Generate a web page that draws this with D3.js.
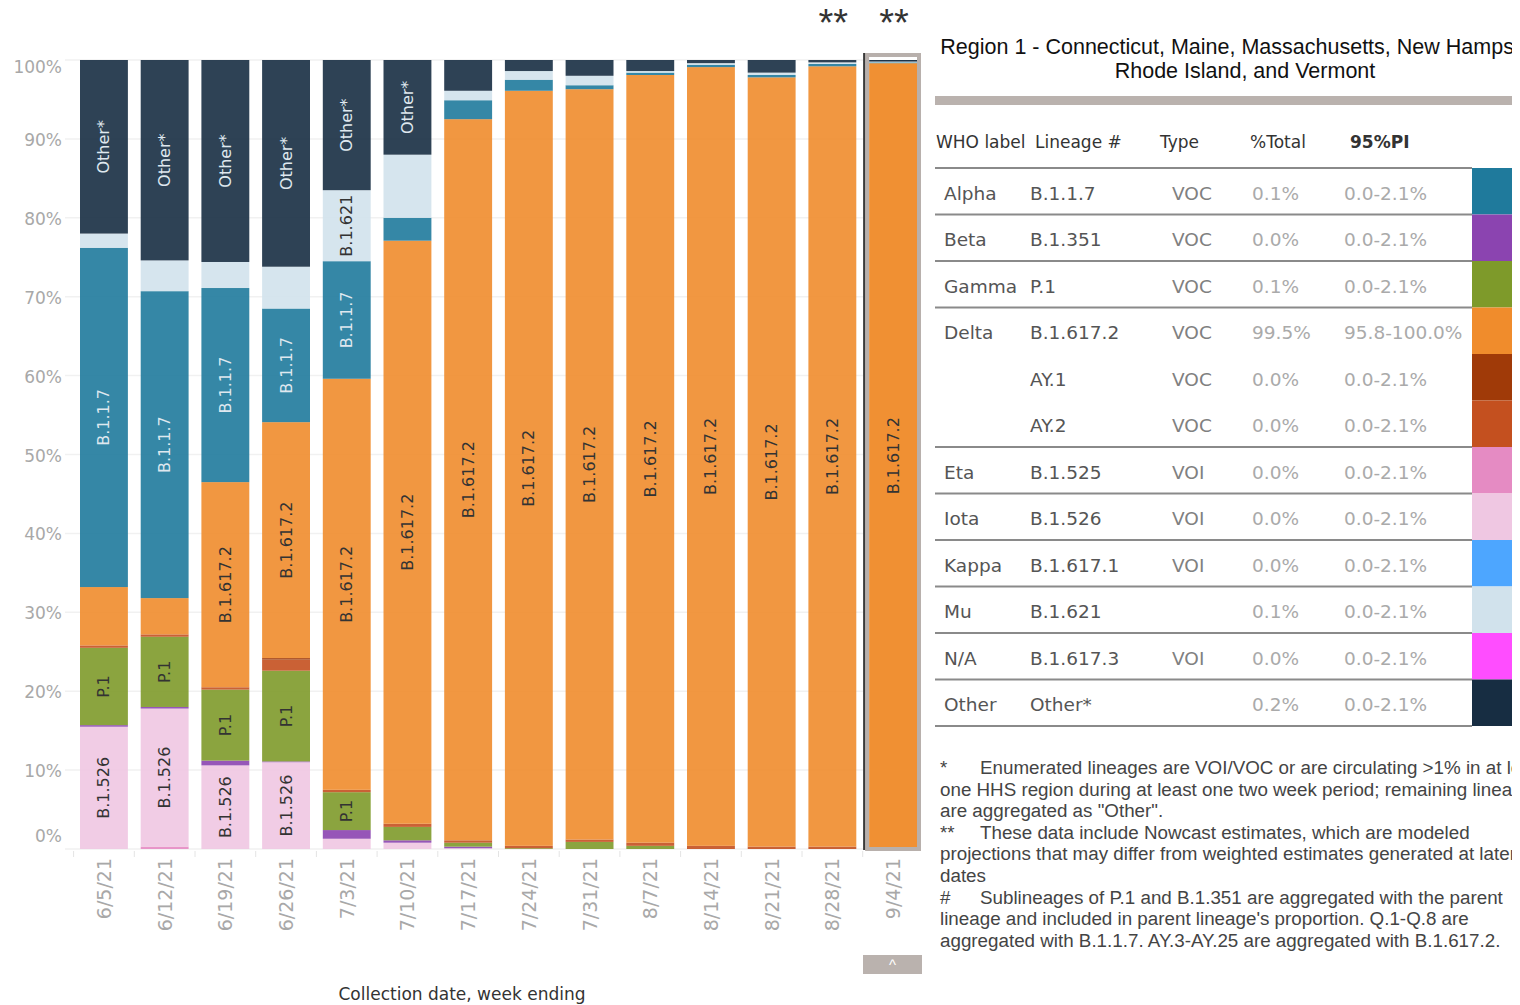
<!DOCTYPE html>
<html>
<head>
<meta charset="utf-8">
<script src="https://cdn.jsdelivr.net/npm/d3@7"></script>
<style>
  body { margin: 0; background: #fff; }
  svg { display: block; }
</style>
</head>
<body>
<div class="container"></div>
<script>
"use strict";

var width = 1520;
var height = 1005;

// weeks (collection date, week ending)
var dates = ["6/5/21", "6/12/21", "6/19/21", "6/26/21", "7/3/21", "7/10/21", "7/17/21",
    "7/24/21", "7/31/21", "8/7/21", "8/14/21", "8/21/21", "8/28/21", "9/4/21"];

// proportions in %, stacked bottom -> top in this order
var eta    = [0, 0.3, 0, 0, 0, 0, 0, 0, 0, 0, 0, 0, 0, 0];
var iota   = [15.5, 17.5, 10.6, 11.0, 1.3, 0.8, 0.1, 0, 0, 0, 0, 0, 0, 0];
var beta   = [0.2, 0.2, 0.6, 0.1, 1.1, 0.3, 0.2, 0, 0, 0, 0, 0, 0, 0];
var gamma  = [9.8, 8.9, 9.0, 11.5, 4.8, 1.7, 0.5, 0.1, 0.9, 0.4, 0, 0, 0, 0.1];
var ay2    = [0.3, 0.3, 0.3, 1.4, 0.3, 0.4, 0.3, 0.3, 0.3, 0.4, 0.4, 0.3, 0.3, 0];
var ay1    = [0, 0, 0, 0.2, 0, 0, 0, 0, 0, 0, 0, 0, 0, 0];
var delta  = [7.4, 4.6, 26.0, 29.9, 52.1, 73.9, 91.4, 95.7, 95.1, 97.3, 98.7, 97.5, 98.9, 99.5];
var alpha  = [43.0, 38.9, 24.6, 14.4, 14.9, 2.9, 2.4, 1.4, 0.5, 0.3, 0.3, 0.3, 0.3, 0.1];
var mu     = [1.8, 3.9, 3.3, 5.3, 9.0, 8.0, 1.2, 1.1, 1.2, 0.2, 0.2, 0.3, 0.2, 0.1];
var other  = [22.0, 25.4, 25.6, 26.2, 16.5, 12.0, 3.9, 1.4, 2.0, 1.4, 0.4, 1.6, 0.3, 0.2];

var stackKeys   = ["B.1.525", "B.1.526", "B.1.351", "P.1", "AY.2", "AY.1", "B.1.617.2", "B.1.1.7", "B.1.621", "Other*"];
var stackSeries = [eta, iota, beta, gamma, ay2, ay1, delta, alpha, mu, other];

// legend table
var whoLabels = ["Alpha", "Beta", "Gamma", "Delta", "", "", "Eta", "Iota", "Kappa", "Mu", "N/A", "Other"];
var lineages  = ["B.1.1.7", "B.1.351", "P.1", "B.1.617.2", "AY.1", "AY.2", "B.1.525", "B.1.526", "B.1.617.1", "B.1.621", "B.1.617.3", "Other*"];
var types     = ["VOC", "VOC", "VOC", "VOC", "VOC", "VOC", "VOI", "VOI", "VOI", "", "VOI", ""];
var pctTotal  = ["0.1%", "0.0%", "0.1%", "99.5%", "0.0%", "0.0%", "0.0%", "0.0%", "0.0%", "0.1%", "0.0%", "0.2%"];
var piRange   = ["0.0-2.1%", "0.0-2.1%", "0.0-2.1%", "95.8-100.0%", "0.0-2.1%", "0.0-2.1%", "0.0-2.1%",
    "0.0-2.1%", "0.0-2.1%", "0.0-2.1%", "0.0-2.1%", "0.0-2.1%"];
var swatches  = ["#1f7a9c", "#8b44b0", "#7e9a2a", "#f08c2c", "#a03a08", "#c4501f", "#e58bc3",
    "#efc7e2", "#4da6ff", "#d1e2ec", "#ff4dff", "#172d42"];

var yTicks = [0, 10, 20, 30, 40, 50, 60, 70, 80, 90, 100];

var footnotes = [
    ["*", "Enumerated lineages are VOI/VOC or are circulating >1% in at least"],
    ["", "one HHS region during at least one two week period; remaining lineages"],
    ["", "are aggregated as \"Other\"."],
    ["**", "These data include Nowcast estimates, which are modeled"],
    ["", "projections that may differ from weighted estimates generated at later"],
    ["", "dates"],
    ["#", "Sublineages of P.1 and B.1.351 are aggregated with the parent"],
    ["", "lineage and included in parent lineage's proportion. Q.1-Q.8 are"],
    ["", "aggregated with B.1.1.7. AY.3-AY.25 are aggregated with B.1.617.2."]
];

var colorOf = {};
lineages.forEach(function(l, i) { colorOf[l] = swatches[i]; });

var rows = dates.map(function(d, i) {
    var r = {date: d};
    stackKeys.forEach(function(k, j) { r[k] = stackSeries[j][i]; });
    return r;
});

var series = d3.stack().keys(stackKeys)(rows);

var svg = d3.select(".container").append("svg")
    .attr("width", width)
    .attr("height", height);

var chartFont = "'DejaVu Sans', sans-serif";
var arial = "'Liberation Sans', Arial, sans-serif";

// the dashboard cuts the right panel off at its edge
svg.append("defs").append("clipPath")
    .attr("id", "panel-clip")
    .append("rect")
    .attr("x", 925).attr("y", 0)
    .attr("width", 587).attr("height", height);

var x = d3.scaleBand()
    .domain(dates)
    .range([73.6, 923.4])
    .paddingInner(0.211)
    .paddingOuter(0.1055);

var y = d3.scaleLinear().domain([0, 100]).range([849, 60]);

// gridlines
svg.append("g").selectAll("line")
    .data(yTicks)
    .enter().append("line")
    .attr("x1", 65).attr("x2", 863)
    .attr("y1", function(d) { return y(d); })
    .attr("y2", function(d) { return y(d); })
    .attr("stroke", "#f1f1f1")
    .attr("stroke-width", 1.5);

// y labels (Tableau nudges the end labels inward)
svg.append("g").selectAll("text")
    .data(yTicks)
    .enter().append("text")
    .attr("x", 62)
    .attr("y", function(d) { return y(d) + (d === 100 ? 7 : d === 0 ? -13 : 1); })
    .attr("text-anchor", "end")
    .attr("dominant-baseline", "central")
    .style("font-family", chartFont)
    .style("font-size", "17px")
    .style("fill", "#a8a8a8")
    .text(function(d) { return d + "%"; });

// small dividers between columns at the bottom
var bounds = dates.map(function(d) { return x(d) - x.step() * x.paddingInner() / 2; });
svg.append("g").selectAll("line")
    .data(bounds)
    .enter().append("line")
    .attr("x1", function(d) { return d; }).attr("x2", function(d) { return d; })
    .attr("y1", 851).attr("y2", 857)
    .attr("stroke", "#e4e4e4");

var last = dates[dates.length - 1];

// bars
var layers = svg.append("g").selectAll("g")
    .data(series)
    .enter().append("g")
    .attr("fill", function(d) { return colorOf[d.key]; });

layers.selectAll("rect")
    .data(function(d) { return d; })
    .enter().append("rect")
    .attr("x", function(d) { return x(d.data.date); })
    .attr("y", function(d) { return y(d[1]); })
    .attr("width", x.bandwidth())
    .attr("height", function(d) { return y(d[0]) - y(d[1]); })
    .attr("fill-opacity", function(d) { return d.data.date === last ? 0.97 : 0.9; });

// labels inside the bars, only where they fit
var labels = svg.append("g");
series.forEach(function(s) {
    var light = s.key === "Other*" || s.key === "B.1.1.7";
    s.forEach(function(d) {
        var h = y(d[0]) - y(d[1]);
        if (h < 20) return;
        var cx = x(d.data.date) + x.bandwidth() / 2;
        var cy = (y(d[0]) + y(d[1])) / 2;
        var t = labels.append("text")
            .attr("transform", "translate(" + cx + "," + cy + ") rotate(-90)")
            .attr("text-anchor", "middle")
            .attr("dominant-baseline", "central")
            .style("font-family", chartFont)
            .style("font-size", "16px")
            .style("fill", light ? "#dfe8ef" : "#333")
            .text(s.key);
        if (t.node().getComputedTextLength() + 8 > h) t.remove();
    });
});

// highlight frame on the last week
var lx = x(last);
svg.append("rect")
    .attr("x", lx - 2).attr("y", 55)
    .attr("width", x.bandwidth() + 4).attr("height", 794)
    .attr("fill", "none")
    .attr("stroke", "#b8b0ac")
    .attr("stroke-width", 4);
svg.append("line")
    .attr("x1", lx - 5).attr("x2", lx - 5)
    .attr("y1", 53).attr("y2", 850)
    .attr("stroke", "#3a3a3a")
    .attr("stroke-width", 2);

// nowcast markers
svg.append("g").selectAll("text")
    .data(dates.slice(-2))
    .enter().append("text")
    .attr("x", function(d) { return x(d) + x.bandwidth() / 2 + 1; })
    .attr("y", 36)
    .attr("text-anchor", "middle")
    .style("font-family", arial)
    .style("font-size", "38px")
    .style("fill", "#333")
    .text("**");

// x labels
svg.append("g").selectAll("text")
    .data(dates)
    .enter().append("text")
    .attr("transform", function(d) {
        return "translate(" + (x(d) + x.bandwidth() / 2) + ",858) rotate(-90)";
    })
    .attr("text-anchor", "end")
    .attr("dominant-baseline", "central")
    .style("font-family", chartFont)
    .style("font-size", "19px")
    .style("fill", "#a8a8a8")
    .text(function(d) { return d; });

svg.append("text")
    .attr("x", 462).attr("y", 1000)
    .attr("text-anchor", "middle")
    .style("font-family", chartFont)
    .style("font-size", "17px")
    .style("fill", "#333")
    .text("Collection date, week ending");

// scroll button
svg.append("rect")
    .attr("x", 863).attr("y", 955)
    .attr("width", 59).attr("height", 19)
    .attr("fill", "#bab2ae");
svg.append("text")
    .attr("x", 892.5).attr("y", 970)
    .attr("text-anchor", "middle")
    .style("font-family", arial)
    .style("font-size", "15px")
    .style("fill", "#fff")
    .text("^");

// ---- right panel ----
var panel = svg.append("g").attr("clip-path", "url(#panel-clip)");

panel.append("text")
    .attr("x", 1248).attr("y", 54)
    .attr("text-anchor", "middle")
    .style("font-family", arial)
    .style("font-size", "21.5px")
    .style("fill", "#111")
    .text("Region 1 - Connecticut, Maine, Massachusetts, New Hampshire,");
panel.append("text")
    .attr("x", 1245).attr("y", 78)
    .attr("text-anchor", "middle")
    .style("font-family", arial)
    .style("font-size", "21.5px")
    .style("fill", "#111")
    .text("Rhode Island, and Vermont");

panel.append("rect")
    .attr("x", 935).attr("y", 96)
    .attr("width", 577).attr("height", 9)
    .attr("fill", "#bab2ae");

var headers = [
    {t: "WHO label", x: 936, bold: false},
    {t: "Lineage #", x: 1035, bold: false},
    {t: "Type", x: 1160, bold: false},
    {t: "%Total", x: 1250, bold: false},
    {t: "95%PI", x: 1350, bold: true}
];
panel.append("g").selectAll("text")
    .data(headers)
    .enter().append("text")
    .attr("x", function(d) { return d.x; })
    .attr("y", 142)
    .attr("dominant-baseline", "central")
    .style("font-family", chartFont)
    .style("font-size", "17px")
    .style("font-weight", function(d) { return d.bold ? "bold" : "normal"; })
    .style("fill", "#333")
    .text(function(d) { return d.t; });

var ry = d3.scaleBand().domain(lineages).range([168, 726]);

var tableRows = panel.append("g").selectAll("g")
    .data(lineages)
    .enter().append("g")
    .attr("transform", function(d) { return "translate(0," + ry(d) + ")"; });

tableRows.append("rect")
    .attr("x", 1472).attr("y", 0)
    .attr("width", 40).attr("height", ry.bandwidth())
    .attr("fill", function(d, i) { return swatches[i]; });

var cols = [
    {x: 944, v: whoLabels, c: "#555"},
    {x: 1030, v: lineages, c: "#555"},
    {x: 1172, v: types, c: "#808080"},
    {x: 1252, v: pctTotal, c: "#aaa"},
    {x: 1344, v: piRange, c: "#aaa"}
];
cols.forEach(function(col) {
    tableRows.append("text")
        .attr("x", col.x)
        .attr("y", ry.bandwidth() / 2 + 2)
        .attr("dominant-baseline", "central")
        .style("font-family", chartFont)
        .style("font-size", "18.5px")
        .style("fill", col.c)
        .text(function(d, i) { return col.v[i]; });
});

// separators: header line and after each row, except inside the Delta group
var sepY = [168].concat(lineages.filter(function(d) {
    return d !== "B.1.617.2" && d !== "AY.1";
}).map(function(d) { return ry(d) + ry.bandwidth(); }));
panel.append("g").selectAll("line")
    .data(sepY)
    .enter().append("line")
    .attr("x1", 935).attr("x2", 1472)
    .attr("y1", function(d) { return d; })
    .attr("y2", function(d) { return d; })
    .attr("stroke", "#8a8a8a")
    .attr("stroke-width", 2);

// footnotes
var notes = panel.append("g").selectAll("g")
    .data(footnotes)
    .enter().append("g")
    .attr("transform", function(d, i) { return "translate(0," + (774 + i * 21.6) + ")"; });
notes.append("text")
    .attr("x", 940)
    .style("font-family", arial)
    .style("font-size", "18.8px")
    .style("fill", "#444")
    .text(function(d) { return d[0]; });
notes.append("text")
    .attr("x", function(d) { return d[0] ? 980 : 940; })
    .style("font-family", arial)
    .style("font-size", "18.8px")
    .style("fill", "#444")
    .text(function(d) { return d[1]; });
</script>
</body>
</html>
